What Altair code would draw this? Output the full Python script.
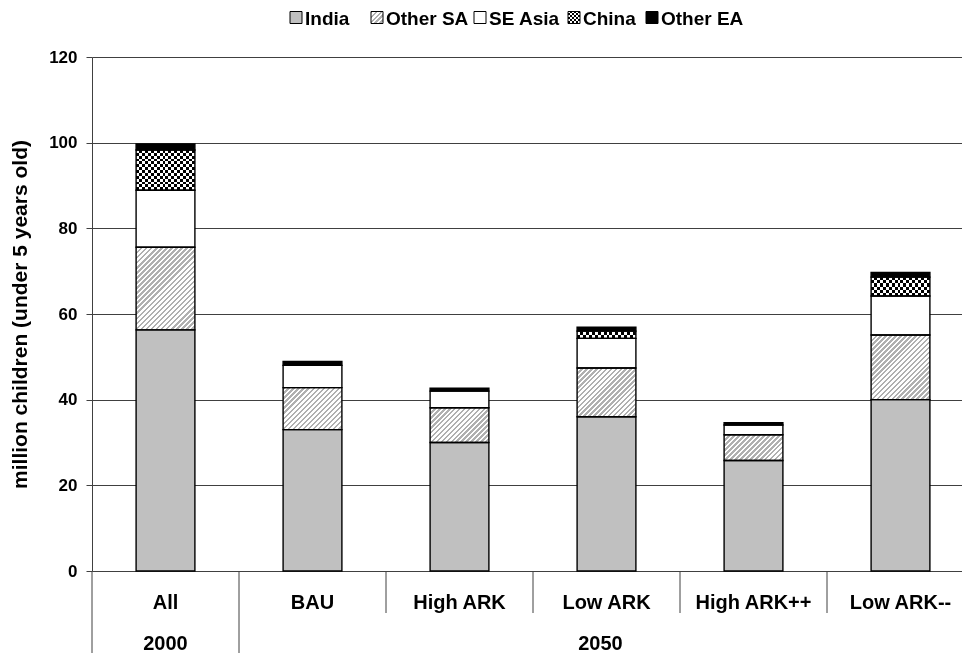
import altair as alt
import pandas as pd

# Scenario categories (lower row groups them by year)
scenarios = ["All", "BAU", "High ARK", "Low ARK", "High ARK++", "Low ARK--"]
periods = ["2000", "2050"]
period_start = [0, 1]
period_span = [1, 5]

# Stacked series, million children under 5
series = ["India", "Other SA", "SE Asia", "China", "Other EA"]
india = [56.3, 33.0, 30.0, 36.0, 25.8, 40.0]
other_sa = [19.3, 9.8, 8.1, 11.4, 6.0, 15.1]
se_asia = [13.3, 5.2, 3.9, 6.9, 2.3, 9.1]
china = [9.4, 0.0, 0.0, 1.7, 0.0, 4.4]
other_ea = [1.4, 0.9, 0.7, 0.9, 0.5, 1.1]
y_ticks = [0, 20, 40, 60, 80, 100, 120]

LEFT, TOP = 92, 57
W, H = 882, 514
TOTAL_W, TOTAL_H = 962, 653
VISIBLE_W = TOTAL_W - LEFT
Y_MAX = 120
BAR_FRAC = 0.4
BAND = W / len(scenarios)
BAR_W = BAND * BAR_FRAC
PX_PER_UNIT = H / Y_MAX
FONT = "Liberation Sans"

# stack the segments
rows = []
for i, sc in enumerate(scenarios):
    base = 0.0
    for name, vals in zip(series, [india, other_sa, se_asia, china, other_ea]):
        v = vals[i]
        if v > 0:
            rows.append(dict(scenario=sc, series=name, lo=base, hi=base + v, value=v))
        base += v
df = pd.DataFrame(rows)


def stop(o, c):
    return alt.GradientStop(offset=float(min(max(o, 0.0), 1.0)), color=c)


def stripes(n, frac, on, off):
    out = []
    for k in range(n):
        a, b, e = k / n, (k + frac) / n, (k + 1) / n
        out += [stop(a, on), stop(b, on), stop(b, off), stop(e, off)]
    return out


def diag_hatch(w, h, period=5.0):
    # "/" stripes at 45 degrees for a w x h box
    c = (w + h) / (w * w + h * h)
    n = max(1, round((w + h) / period))
    return alt.LinearGradient(gradient="linear", stops=stripes(n, 0.5, "#b0b0b0", "#ffffff"),
                              x1=0, y1=0, x2=c * w, y2=c * h)


def vstripes(w, period=6.0):
    n = max(1, round(w / period))
    return alt.LinearGradient(gradient="linear", stops=stripes(n, 0.5, "#000000", "#ffffff"),
                              x1=0, y1=0, x2=1, y2=0)


def hstripes(h, period=6.0):
    n = max(1, round(h / period))
    return alt.LinearGradient(gradient="linear", stops=stripes(n, 0.5, "#ffffff", "#000000"),
                              x1=0, y1=0, x2=0, y2=1)


x_enc = alt.X("scenario:N", sort=scenarios,
              scale=alt.Scale(domain=scenarios, paddingInner=0, paddingOuter=0),
              axis=alt.Axis(title=None, labelAngle=0, labelFont=FONT, labelFontSize=20,
                            labelFontWeight="bold", labelColor="#000000", ticks=False, tickSize=0,
                            domain=False, grid=False, labelPadding=31, labelBaseline="middle"))
y_enc = alt.Y("lo:Q", scale=alt.Scale(domain=[0, Y_MAX], nice=False, zero=True),
              axis=alt.Axis(values=y_ticks, title="million children (under 5 years old)",
                            titleFont=FONT, titleFontSize=21, titleFontWeight="bold",
                            titleColor="#000000", titleAngle=-90, titleX=-72, titleY=H / 2,
                            titleAlign="center", titleBaseline="middle",
                            labelFont=FONT, labelFontSize=17, labelFontWeight="bold",
                            labelColor="#000000", labelPadding=9, tickSize=6,
                            tickColor="#404040", domainColor="#404040", gridColor="#404040",
                            gridWidth=1, grid=True))

bar_w = alt.RelativeBandSize(BAR_FRAC)
base = alt.Chart(df)

fills = base.mark_bar(width=bar_w).encode(
    x=x_enc, y=y_enc, y2="hi:Q",
    color=alt.Color("series:N", scale=alt.Scale(domain=series,
                    range=["#c0c0c0", "#ffffff", "#ffffff", "#ffffff", "#000000"]), legend=None),
)

layers = [fills]

# hatched Other SA segments and checkered China segments
for r in df.itertuples():
    h = r.value * PX_PER_UNIT
    sel = base.transform_filter(
        (alt.datum.scenario == r.scenario) & (alt.datum.series == r.series))
    if r.series == "Other SA":
        layers.append(sel.mark_bar(width=bar_w, fill=diag_hatch(BAR_W, h)).encode(
            x=alt.X("scenario:N", sort=scenarios), y="lo:Q", y2="hi:Q"))
    elif r.series == "China":
        layers.append(sel.mark_bar(width=bar_w, fill=vstripes(BAR_W)).encode(
            x=alt.X("scenario:N", sort=scenarios), y="lo:Q", y2="hi:Q"))
        layers.append(sel.mark_bar(width=bar_w, fill=hstripes(h), blend="difference").encode(
            x=alt.X("scenario:N", sort=scenarios), y="lo:Q", y2="hi:Q"))

outline = base.mark_bar(width=bar_w, fillOpacity=0, stroke="#000000", strokeWidth=1.4).encode(
    x=alt.X("scenario:N", sort=scenarios), y="lo:Q", y2="hi:Q")
layers.append(outline)

# category separators below the axis
sep_df = pd.DataFrame({"scenario": scenarios})
group_starts = [scenarios[s] for s in period_start]
short_sep = alt.Chart(sep_df).transform_filter(
    alt.FieldOneOfPredicate(field="scenario", oneOf=[s for s in scenarios if s not in group_starts])
).mark_rule(color="#404040", strokeWidth=1).encode(
    x=alt.X("scenario:N", sort=scenarios, bandPosition=0),
    y=alt.value(H), y2=alt.value(H + 42))
long_sep = alt.Chart(sep_df).transform_filter(
    alt.FieldOneOfPredicate(field="scenario", oneOf=group_starts)
).mark_rule(color="#404040", strokeWidth=1).encode(
    x=alt.X("scenario:N", sort=scenarios, bandPosition=0),
    y=alt.value(H), y2=alt.value(H + 82))
layers += [short_sep, long_sep]

# year labels, centred under the visible part of their group of scenarios
for label, s0, span in zip(periods, period_start, period_span):
    left_px = s0 * BAND
    right_px = min((s0 + span) * BAND, VISIBLE_W)
    pos = (left_px + right_px) / 2 / BAND
    idx = int(pos)
    bp = pos - idx
    layers.append(alt.Chart(pd.DataFrame({"scenario": [scenarios[idx]], "label": [label]}))
                  .mark_text(font=FONT, fontSize=20, fontWeight="bold", color="#000000",
                             baseline="middle", align="center")
                  .encode(x=alt.X("scenario:N", sort=scenarios, bandPosition=bp),
                          y=alt.value(H + 73), text="label:N"))

# legend row above the plot
leg_cx = [296, 377, 480, 574, 652]
LEG_Y = 17.5 - TOP
SQ = 12
leg_fill = {
    "India": "#c0c0c0",
    "Other SA": diag_hatch(SQ, SQ, 4.5),
    "SE Asia": "#ffffff",
    "China": vstripes(SQ, 4.0),
    "Other EA": "#000000",
}
leg_data = pd.DataFrame({"series": series})
for name, cx in zip(series, leg_cx):
    x0 = cx - LEFT - SQ / 2
    one = alt.Chart(leg_data).transform_filter(alt.datum.series == name)
    enc = dict(x=alt.value(x0), x2=alt.value(x0 + SQ), y=alt.value(LEG_Y - SQ / 2),
               y2=alt.value(LEG_Y + SQ / 2))
    layers.append(one.mark_rect(fill=leg_fill[name]).encode(**enc))
    if name == "China":
        layers.append(one.mark_rect(fill=hstripes(SQ, 4.0), blend="difference").encode(**enc))
    layers.append(one.mark_rect(fillOpacity=0, stroke="#000000", strokeWidth=1).encode(**enc))
    layers.append(one.mark_text(font=FONT, fontSize=19, fontWeight="bold", color="#000000",
                                align="left", baseline="middle")
                  .encode(x=alt.value(x0 + SQ + 3), y=alt.value(LEG_Y + 1), text="series:N"))

chart = alt.layer(*layers).properties(
    width=W, height=H,
    padding={"left": LEFT, "top": TOP, "right": TOTAL_W - LEFT - W, "bottom": TOTAL_H - TOP - H},
    autosize=alt.AutoSizeParams(type="none"),
    background="#ffffff",
).configure_view(stroke=None)

chart.save("out.html", embed_options={"renderer": "svg", "actions": False})
